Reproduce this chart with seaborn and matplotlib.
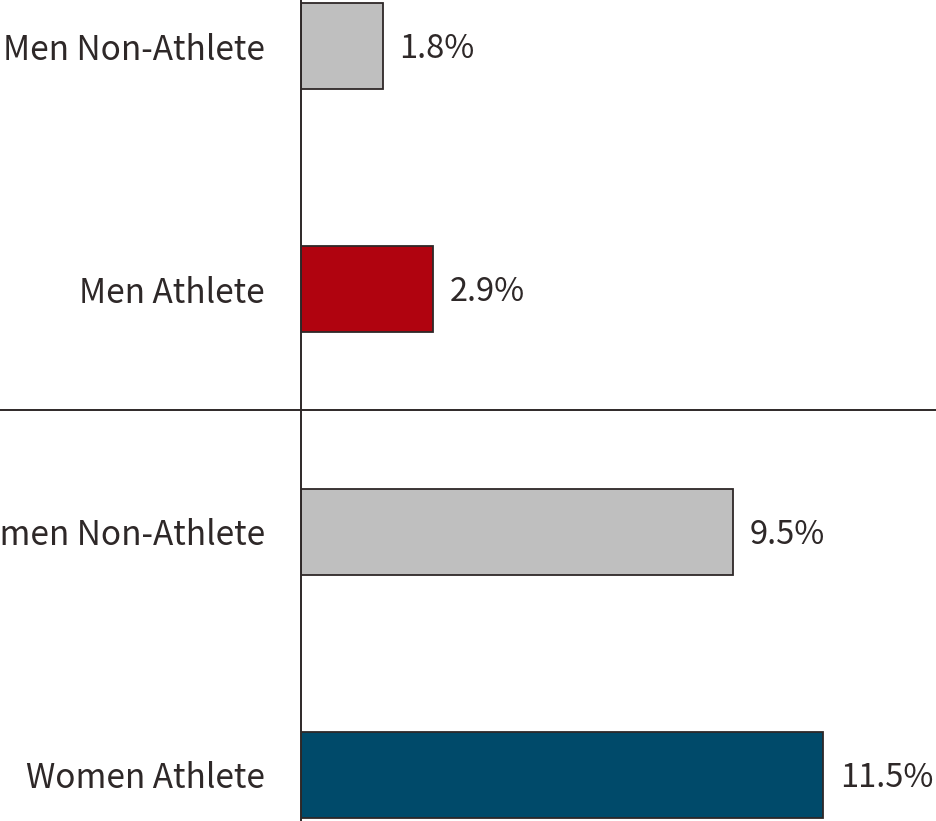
import pandas as pd
import seaborn as sns
import matplotlib.pyplot as plt

# chart data
groups = ["Men Non-Athlete", "Men Athlete", "Women Non-Athlete", "Women Athlete"]
rates = [1.8, 2.9, 9.5, 11.5]
bar_colors = ["#bfbfbf", "#b0030f", "#bfbfbf", "#004a6a"]

df = pd.DataFrame({"group": groups, "rate": rates})

sns.set_style("white")
plt.rcParams["font.family"] = ["Noto Sans CJK JP", "DejaVu Sans"]

ink = "#2e2828"
fsize = 24

fig = plt.figure(figsize=(9.37, 8.21), dpi=100)
ax = fig.add_axes([301 / 937, 0.0, 636 / 937, 1.0])

sns.barplot(
    data=df,
    x="rate",
    y="group",
    hue="group",
    palette=bar_colors,
    saturation=1,
    legend=False,
    width=0.354,
    edgecolor=ink,
    linewidth=1.3,
    ax=ax,
)

ax.set_xlim(0, 14.0)
ax.set_ylim(3.19, -0.19)
ax.set(xlabel="", ylabel="")
ax.set_xticks([])
ax.tick_params(axis="y", length=0, pad=26, labelsize=fsize, labelcolor=ink)

for side in ["top", "right", "bottom"]:
    ax.spines[side].set_visible(False)
ax.spines["left"].set_color(ink)
ax.spines["left"].set_linewidth(1.4)

# value labels
for i, v in enumerate(rates):
    ax.annotate(f"{v}%", xy=(v, i), xytext=(12, -2), textcoords="offset points",
                va="center", ha="left", fontsize=fsize - 0.5, color=ink)

# divider between men and women
ax.axhline(1.5, xmin=-0.5, xmax=1.0, color=ink, linewidth=1.4, clip_on=False)

fig.savefig("out.png", dpi=100)
